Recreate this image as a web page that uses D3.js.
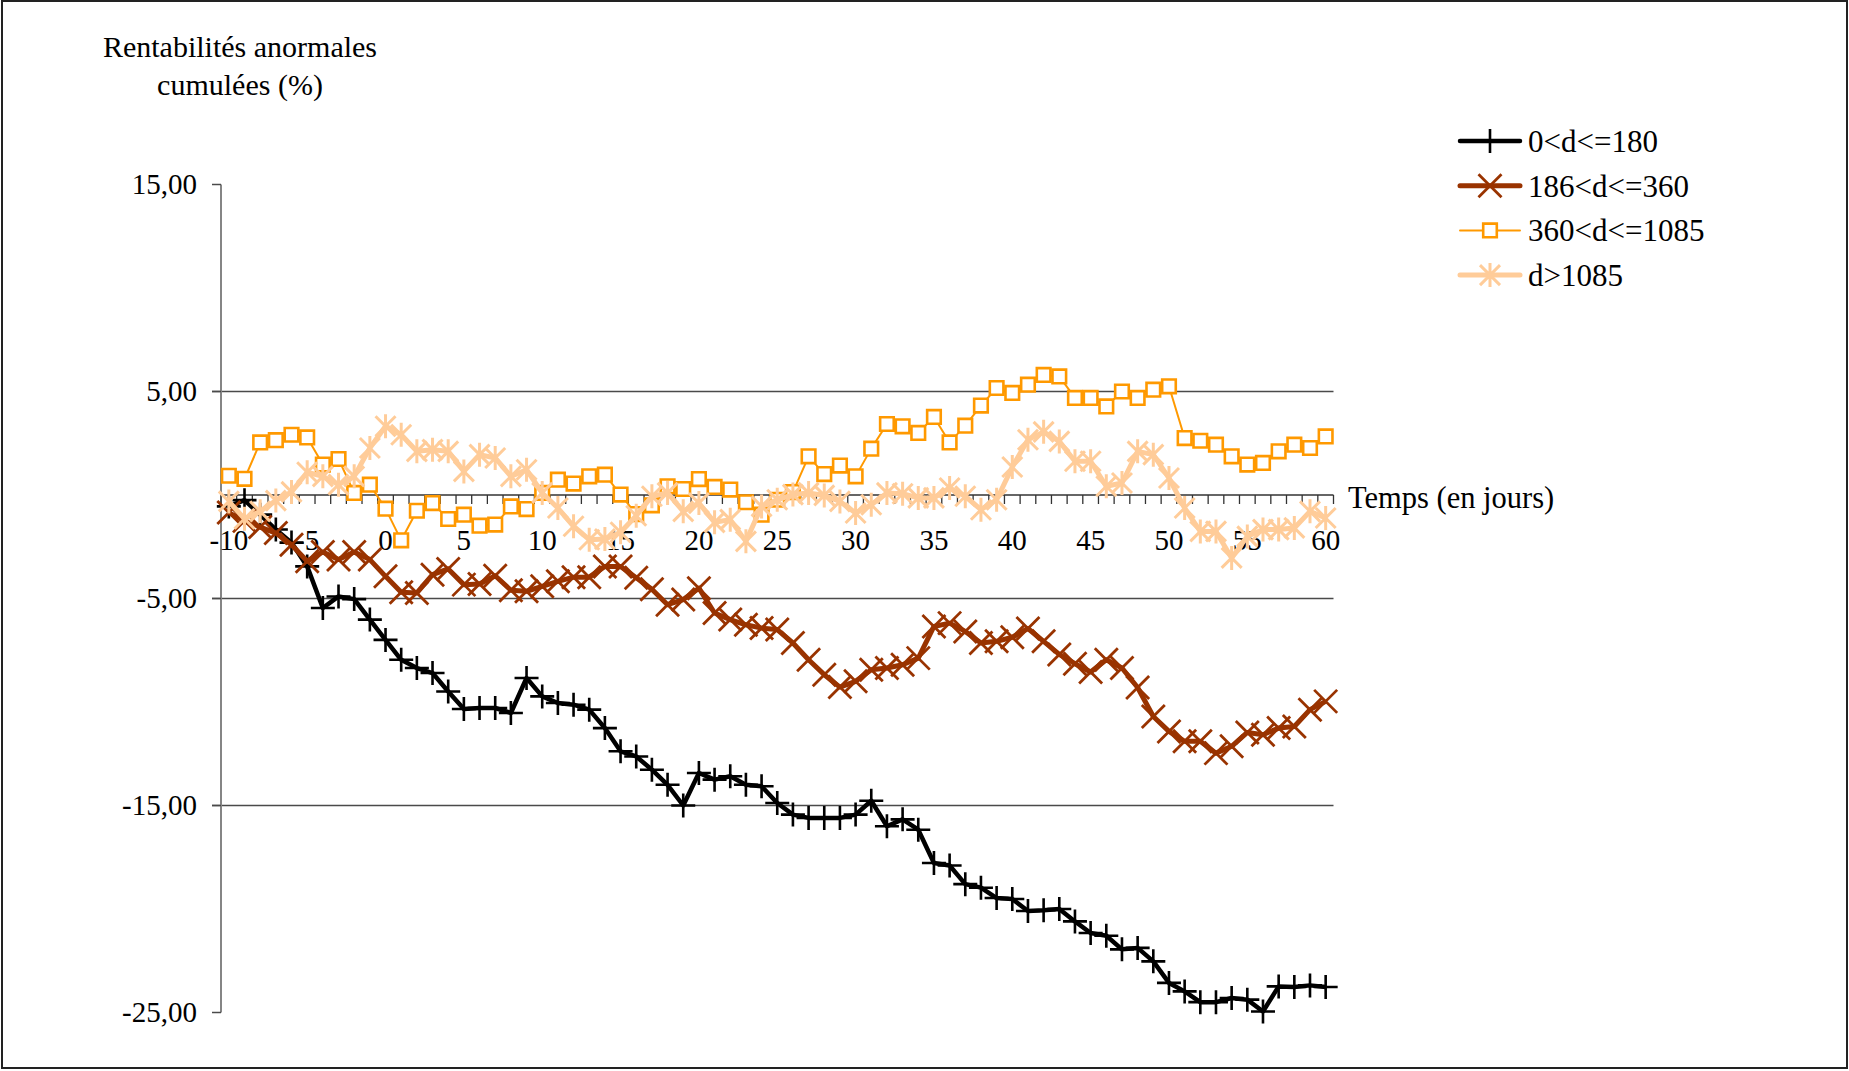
<!DOCTYPE html>
<html>
<head>
<meta charset="utf-8">
<script src="https://cdn.jsdelivr.net/npm/d3@7"></script>
<style>
  body { margin: 0; background: #fff; }
  text { font-family: "Liberation Serif", "Times New Roman", serif; fill: #000; }
</style>
</head>
<body>
<svg id="chart" width="1849" height="1071"></svg>
<script>
// event days -10 .. 60
var days = d3.range(-10, 61);

var seriesNames = ["0<d<=180", "186<d<=360", "360<d<=1085", "d>1085"];

// cumulative abnormal returns (%), one value per day
var car180 = [-0.55, -0.25, -0.95, -1.67, -2.3, -3.45, -5.46, -4.9, -5.03, -6.02,
  -7.0, -7.96, -8.36, -8.6, -9.49, -10.34, -10.29, -10.29, -10.53, -8.84,
  -9.73, -10.05, -10.13, -10.37, -11.26, -12.38, -12.63, -13.27, -14.0, -15.0,
  -13.43, -13.75, -13.59, -14.0, -14.07, -14.88, -15.44, -15.6, -15.6, -15.6,
  -15.44, -14.77, -16.0, -15.67, -16.17, -17.78, -17.9, -18.8, -18.97, -19.47,
  -19.52, -20.1, -20.06, -20.0, -20.6, -21.16, -21.29, -21.95, -21.88, -22.53,
  -23.57, -23.98, -24.5, -24.5, -24.3, -24.38, -24.95, -23.74, -23.77, -23.69,
  -23.77];

var car360 = [-0.85, -1.25, -1.55, -1.84, -2.4, -3.2, -2.75, -3.12, -2.75, -3.12,
  -3.93, -4.7, -4.73, -3.85, -3.57, -4.33, -4.3, -3.9, -4.6, -4.65,
  -4.41, -4.17, -3.97, -3.97, -3.45, -3.45, -4.0, -4.55, -5.3, -5.05,
  -4.5, -5.7, -6.02, -6.27, -6.43, -6.5, -7.15, -7.96, -8.68, -9.28,
  -9.0, -8.44, -8.36, -8.2, -7.88, -6.35, -6.19, -6.59, -7.15, -7.07,
  -6.87, -6.45, -7.07, -7.7, -8.15, -8.55, -7.96, -8.36, -9.3, -10.7,
  -11.42, -11.9, -11.9, -12.47, -12.14, -11.47, -11.58, -11.26, -11.18, -10.37,
  -9.97];

var car1085 = [0.93, 0.78, 2.54, 2.65, 2.91, 2.78, 1.47, 1.74, 0.1, 0.5,
  -0.66, -2.19, -0.76, -0.39, -1.16, -0.95, -1.48, -1.43, -0.55, -0.68,
  0.1, 0.74, 0.55, 0.9, 0.98, 0.02, -0.92, -0.5, 0.42, 0.29,
  0.77, 0.39, 0.26, -0.35, -0.95, -0.23, 0.14, 1.87, 1.01, 1.42,
  0.9, 2.24, 3.43, 3.32, 3.0, 3.77, 2.54, 3.35, 4.32, 5.17,
  4.93, 5.33, 5.8, 5.73, 4.69, 4.69, 4.28, 5.0, 4.69, 5.09,
  5.25, 2.75, 2.62, 2.43, 1.87, 1.47, 1.55, 2.11, 2.43, 2.27,
  2.83];

var carOver = [-0.31, -1.15, -0.79, -0.27, 0.15, 1.1, 0.9, 0.5, 0.9, 2.27,
  3.32, 2.91, 2.11, 2.19, 2.11, 1.14, 1.95, 1.79, 0.9, 1.22,
  0.1, -0.63, -1.51, -2.16, -2.13, -1.8, -1.0, -0.06, 0.1, -0.79,
  -0.39, -1.32, -1.19, -2.24, -0.55, -0.23, 0.02, 0.1, -0.02, -0.31,
  -0.87, -0.47, 0.1, 0.06, -0.14, -0.14, 0.34, -0.06, -0.71, -0.23,
  1.35, 2.67, 3.05, 2.59, 1.63, 1.63, 0.42, 0.58, 2.11, 1.95,
  0.82, -0.63, -1.76, -1.76, -3.04, -2.0, -1.67, -1.67, -1.59, -0.79,
  -1.11];

var yTicks = [15, 5, -5, -15, -25];
var yGrid = [5, -5, -15];
var xLabels = [-10, -5, 0, 5, 10, 15, 20, 25, 30, 35, 40, 45, 50, 55, 60];

var svg = d3.select("#chart");

// outer frame
svg.append("rect")
  .attr("x", 2).attr("y", 1)
  .attr("width", 1845).attr("height", 1067)
  .attr("fill", "none").attr("stroke", "#222").attr("stroke-width", 2);

var left = 221, right = 1333.5;
var x = d3.scaleBand().domain(days).range([left, right]);
var cx = function(d) { return x(d) + x.bandwidth() / 2; };
var y = d3.scaleLinear().domain([-25, 15]).range([1012.5, 184.5]);

var fr = d3.formatLocale({decimal: ",", thousands: " ", grouping: [3], currency: ["", ""], minus: "-"});
var fmt = fr.format(".2f");

// gridlines
svg.append("g").selectAll("line")
  .data(yGrid).enter().append("line")
  .attr("x1", left - 9).attr("x2", right)
  .attr("y1", function(d) { return y(d); })
  .attr("y2", function(d) { return y(d); })
  .attr("stroke", "#4a4a4a").attr("stroke-width", 1.5);

// y axis
var yAxis = svg.append("g");
yAxis.append("line")
  .attr("x1", left).attr("x2", left)
  .attr("y1", y(15)).attr("y2", y(-25))
  .attr("stroke", "#858585").attr("stroke-width", 2);
yAxis.selectAll("line.tick")
  .data(yTicks).enter().append("line")
  .attr("class", "tick")
  .attr("x1", left - 9).attr("x2", left)
  .attr("y1", function(d) { return y(d); })
  .attr("y2", function(d) { return y(d); })
  .attr("stroke", "#4a4a4a").attr("stroke-width", 1.5);
yAxis.selectAll("text")
  .data(yTicks).enter().append("text")
  .attr("x", 197)
  .attr("y", function(d) { return y(d); })
  .attr("dy", "0.34em")
  .attr("text-anchor", "end")
  .attr("font-size", 29)
  .text(function(d) { return fmt(d); });

// zero axis with category ticks
var xAxis = svg.append("g");
xAxis.append("line")
  .attr("x1", left).attr("x2", right)
  .attr("y1", y(0)).attr("y2", y(0))
  .attr("stroke", "#333").attr("stroke-width", 1.5);
var bounds = days.map(function(d) { return x(d); }).concat([right]);
xAxis.selectAll("line.tick")
  .data(bounds).enter().append("line")
  .attr("class", "tick")
  .attr("x1", function(d) { return d; }).attr("x2", function(d) { return d; })
  .attr("y1", y(0)).attr("y2", y(0) + 9)
  .attr("stroke", "#333").attr("stroke-width", 1.3);
xAxis.selectAll("text")
  .data(xLabels).enter().append("text")
  .attr("x", function(d) { return cx(d); })
  .attr("y", y(0) + 55)
  .attr("text-anchor", "middle")
  .attr("font-size", 29)
  .text(function(d) { return d; });

svg.append("text")
  .attr("x", 1348).attr("y", 508)
  .attr("font-size", 30.5)
  .text("Temps (en jours)");

var title = svg.append("text")
  .attr("text-anchor", "middle")
  .attr("font-size", 30);
title.append("tspan").attr("x", 240).attr("y", 57).text("Rentabilités anormales");
title.append("tspan").attr("x", 240).attr("y", 95).text("cumulées (%)");

// marker shapes
function plusPath(s) { return "M" + (-s) + ",0H" + s + "M0," + (-s) + "V" + s; }
function crossPath(s) { return "M" + (-s) + "," + (-s) + "L" + s + "," + s + "M" + (-s) + "," + s + "L" + s + "," + (-s); }
function starPath(s) { return crossPath(s) + "M0," + (-s * 1.2) + "V" + (s * 1.2); }
function squarePath(s) { return "M" + (-s) + "," + (-s) + "H" + s + "V" + s + "H" + (-s) + "Z"; }

var series = [
  {name: seriesNames[0], values: car180, color: "#000000", lw: 4.5, marker: plusPath(12), mw: 2.6, fill: "none"},
  {name: seriesNames[1], values: car360, color: "#993300", lw: 5, marker: crossPath(11.5), mw: 2.8, fill: "none"},
  {name: seriesNames[2], values: car1085, color: "#FF9900", lw: 2, marker: squarePath(6.8), mw: 2.6, fill: "#fff"},
  {name: seriesNames[3], values: carOver, color: "#FFCC99", lw: 5, marker: starPath(10), mw: 3, fill: "none"}
];

var line = d3.line()
  .x(function(d, i) { return cx(days[i]); })
  .y(function(d) { return y(d); });

series.forEach(function(s) {
  var g = svg.append("g");
  g.append("path")
    .attr("d", line(s.values))
    .attr("fill", "none")
    .attr("stroke", s.color)
    .attr("stroke-width", s.lw)
    .attr("stroke-linejoin", "round");
  g.selectAll("path.m")
    .data(s.values).enter().append("path")
    .attr("class", "m")
    .attr("transform", function(d, i) { return "translate(" + cx(days[i]) + "," + y(d) + ")"; })
    .attr("d", s.marker)
    .attr("fill", s.fill)
    .attr("stroke", s.color)
    .attr("stroke-width", s.mw);
});

// legend
var legend = svg.append("g");
series.forEach(function(s, i) {
  var ly = 141 + i * 44.7;
  legend.append("line")
    .attr("x1", 1460).attr("x2", 1520)
    .attr("y1", ly).attr("y2", ly)
    .attr("stroke", s.color).attr("stroke-width", s.lw)
    .attr("stroke-linecap", "round");
  legend.append("path")
    .attr("transform", "translate(1490," + ly + ")")
    .attr("d", s.marker)
    .attr("fill", s.fill)
    .attr("stroke", s.color)
    .attr("stroke-width", s.mw);
  legend.append("text")
    .attr("x", 1528).attr("y", ly)
    .attr("dy", "0.35em")
    .attr("font-size", 31)
    .text(s.name);
});
</script>
</body>
</html>
